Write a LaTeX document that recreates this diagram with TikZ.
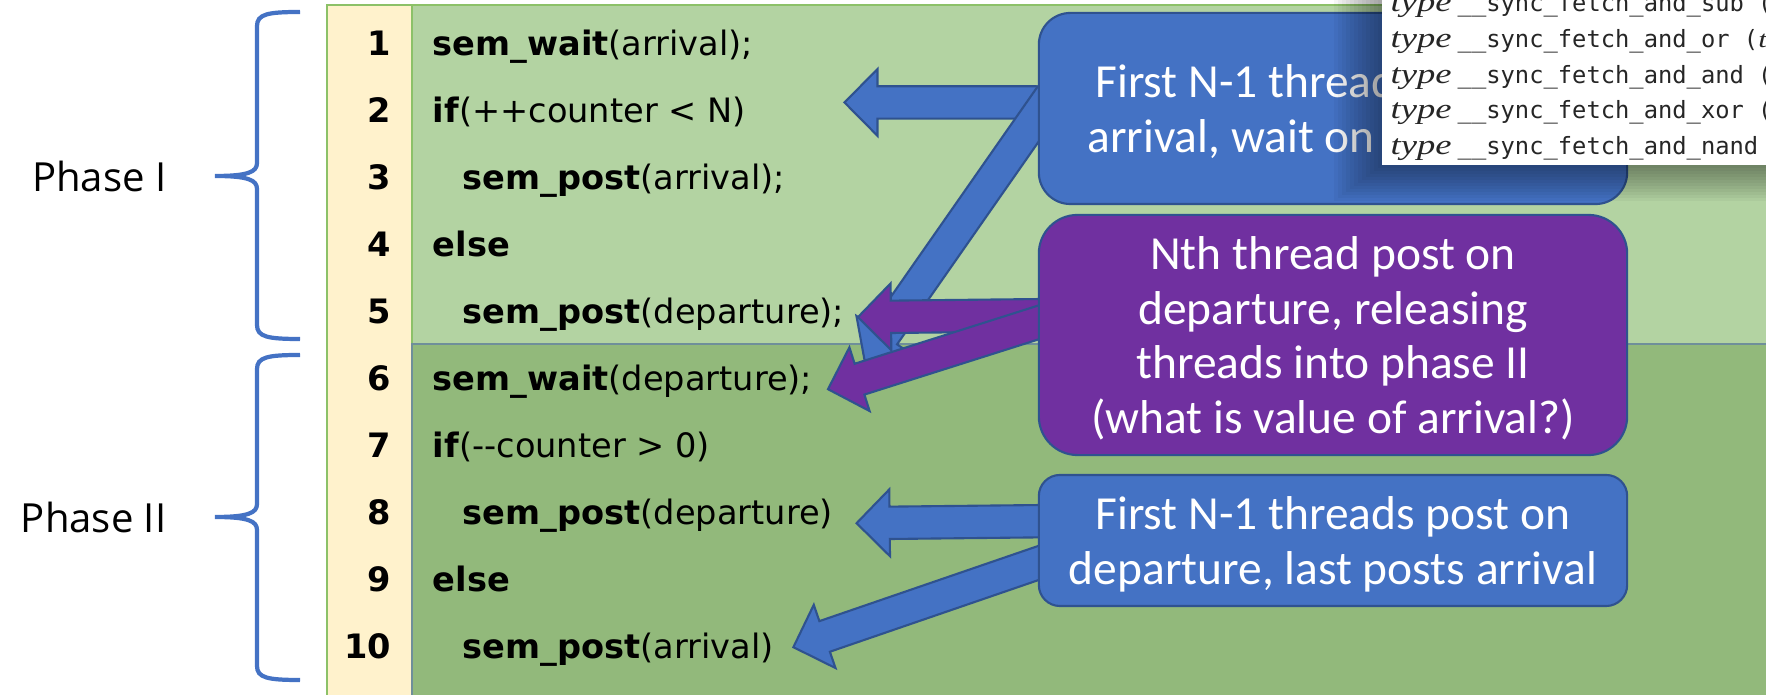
\documentclass[tikz,border=0pt]{standalone}
\usepackage{fontspec}
\setmainfont{Carlito}
\newfontfamily\codefont{DejaVu Sans}
\newfontfamily\phasefont{Open Sans}
\newfontfamily\sigfont{DejaVu Sans Mono}
\newfontfamily\tyfont[FakeStretch=1.3]{Liberation Serif}
\usetikzlibrary{calc}

\definecolor{numcol}{HTML}{FFF2CC}
\definecolor{phaseone}{HTML}{B3D3A2}
\definecolor{phasetwo}{HTML}{92B97B}
\definecolor{tableedge}{HTML}{8CC168}
\definecolor{splitedge}{HTML}{6F8F9A}
\definecolor{noteblue}{HTML}{4472C4}
\definecolor{notepurple}{HTML}{7030A0}
\definecolor{noteedge}{HTML}{2F528F}

\pgfdeclarelayer{back}
\pgfdeclarelayer{mid}
\pgfsetlayers{back,mid,main}

% block arrow: style, start, tip
\newcommand{\fatarrow}[3]{%
  \coordinate (hb) at ($(#3)!9.4pt!(#2)$);
  \filldraw[#1] ($(#2)!4.6pt!90:(#3)$) -- ($(hb)!4.6pt!90:(#3)$) -- ($(hb)!9.5pt!90:(#3)$)
    -- (#3) -- ($(hb)!9.5pt!-90:(#3)$) -- ($(hb)!4.6pt!-90:(#3)$) -- ($(#2)!4.6pt!-90:(#3)$) -- cycle;
}

\begin{document}
\begin{tikzpicture}[x=0.01cm, y=-0.01cm,
    num/.style={font=\codefont\bfseries\fontsize{9.56}{11}\selectfont, anchor=base east, inner sep=0pt},
    code/.style={font=\codefont\fontsize{9.56}{11}\selectfont, anchor=base west, inner sep=0pt},
    note/.style={draw=noteedge, line width=0.6pt, text=white, align=center, text depth=-0.9pt,
        font=\fontsize{13.5}{15.6}\selectfont, minimum width=5.88cm, inner sep=0pt},
    phase/.style={font=\phasefont\fontsize{11.4}{13}\selectfont, anchor=east, inner sep=0pt},
    brace/.style={noteblue, line width=1.2pt},
    bluearrow/.style={fill=noteblue, draw=noteedge, line width=0.6pt},
    purplearrow/.style={fill=notepurple, draw=noteedge, line width=0.6pt},
    sig/.style={font=\sigfont\fontsize{6.76}{8}\selectfont, anchor=base west, inner sep=0pt, text=black!85},
    ty/.style={font=\tyfont\itshape\fontsize{8}{10}\selectfont, anchor=base west, inner sep=0pt, text=black!85}]
    \useasboundingbox (0,0) rectangle (1766,695);

    % table
    \begin{pgfonlayer}{back}
    \fill[numcol] (327,5) rectangle (412,695);
    \fill[phaseone] (412,5) rectangle (1766,344);
    \fill[phasetwo] (412,344) rectangle (1766,695);
    \draw[tableedge, line width=0.6pt] (327,695) -- (327,5) -- (1766,5);
    \draw[tableedge] (412,5) -- (412,344);
    \draw[splitedge] (412,695) -- (412,344) -- (1766,344);
    \end{pgfonlayer}

    \foreach \i in {1,...,10}
        \node[num] (n\i) at (392, {56+67*(\i-1)}) {\i};

    \node[code] (l1) at (432, 56) {\textbf{sem\_wait}(arrival);};
    \node[code] (l2) at (432, 123) {\textbf{if}(++counter < N)};
    \node[code] (l3) at (462, 190) {\textbf{sem\_post}(arrival);};
    \node[code] (l4) at (432, 257) {\textbf{else}};
    \node[code] (l5) at (462, 324) {\textbf{sem\_post}(departure);};
    \node[code] (l6) at (432, 391) {\textbf{sem\_wait}(departure);};
    \node[code] (l7) at (432, 458) {\textbf{if}(-{}-counter > 0)};
    \node[code] (l8) at (462, 525) {\textbf{sem\_post}(departure)};
    \node[code] (l9) at (432, 592) {\textbf{else}};
    \node[code] (l10) at (462, 659) {\textbf{sem\_post}(arrival)};

    % phases
    \draw[brace] (300,12) .. controls (268,12) and (257,14) .. (257,26) -- (257,163)
        .. controls (257,172) and (248,176) .. (215,176) .. controls (248,176) and (257,180) .. (257,189)
        -- (257,325) .. controls (257,337) and (268,339) .. (300,339);
    \draw[brace] (300,355) .. controls (268,355) and (257,357) .. (257,369) -- (257,504)
        .. controls (257,513) and (248,517) .. (215,517) .. controls (248,517) and (257,521) .. (257,530)
        -- (257,666) .. controls (257,678) and (268,680) .. (300,680);
    \node[phase] (p1) at (167,176) {Phase I};
    \node[phase] (p2) at (167,517) {Phase II};

    % notes
    \node[note, fill=noteblue, minimum height=1.91cm, rounded corners=9pt] (firstnote) at (1333,108.5)
        {First N-1 threads post on\\arrival, wait on departure};
    \node[note, fill=notepurple, minimum height=2.40cm, rounded corners=11pt] (nthnote) at (1333,335)
        {Nth thread post on\\departure, releasing\\threads into phase II\\(what is value of arrival?)};
    \node[note, fill=noteblue, minimum height=1.31cm, rounded corners=6pt] (lastnote) at (1333,540.5)
        {First N-1 threads post on\\departure, last posts arrival};

    % arrows
    \begin{pgfonlayer}{mid}
    \coordinate (a1) at ($(firstnote.west)+(20,-6)$);
    \coordinate (a2) at ($(firstnote.west)+(13,-12.5)$);
    \coordinate (a3) at ($(nthnote.west)+(21,-20)$);
    \coordinate (a4) at ($(nthnote.west)+(21,-19)$);
    \coordinate (a5) at ($(lastnote.west)+(21,-19.5)$);
    \coordinate (a6) at ($(lastnote.west)+(21,15.5)$);
    \coordinate (t1) at ($(l2.east)+(98,-10)$);
    \coordinate (t2) at ($(l5.east)+(20,47)$);
    \coordinate (t3) at ($(l5.east)+(13,2)$);
    \coordinate (t4) at ($(l6.east)+(15,7)$);
    \coordinate (t5) at ($(l8.east)+(23,7)$);
    \coordinate (t6) at ($(l10.east)+(19,-3)$);
    \fatarrow{bluearrow}{a1}{t1}
    \fatarrow{bluearrow}{a2}{t2}
    \fatarrow{purplearrow}{a3}{t3}
    \fatarrow{purplearrow}{a4}{t4}
    \fatarrow{bluearrow}{a5}{t5}
    \fatarrow{bluearrow}{a6}{t6}
    \end{pgfonlayer}

    % pasted builtins
    \foreach \k in {1,...,12}
        \fill[black, opacity=0.035] ({1382-4*\k},0) rectangle (1766,{165+3*\k});
    \fill[white] (1382,0) rectangle (1766,165);
    \begin{scope}
        \clip (1382,0) rectangle (1766,165);
        \foreach \op/\tl [count=\i] in {sub/(, or/({\tyfont\itshape t}, and/(, xor/(, nand/(} {
            \node[ty] (ty\i) at (1390, {-24+35.7*\i}) {type};
            \node[sig] (sig\i) at (1457, {-24+35.7*\i}) {\_\_sync\_fetch\_and\_\op\ \tl};
        }
    \end{scope}
\end{tikzpicture}
\end{document}
